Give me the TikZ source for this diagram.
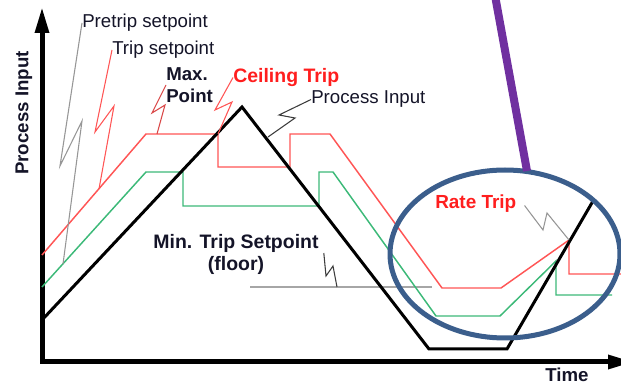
\documentclass[tikz,border=0pt]{standalone}
\usepackage{fontspec}
\setmainfont{Liberation Sans}
\usetikzlibrary{arrows.meta, positioning, shapes.geometric}
\definecolor{myred}{RGB}{255,85,85}
\definecolor{mytrip}{RGB}{255,30,30}
\definecolor{mygreen}{RGB}{60,185,120}
\definecolor{mydark}{RGB}{20,20,40}
\definecolor{mygray}{RGB}{150,150,150}
\definecolor{myleader}{RGB}{60,60,60}
\definecolor{myblue}{RGB}{59,94,140}
\definecolor{mypurple}{RGB}{112,48,160}
\tikzset{
  tag/.style={font=\fontsize{14}{16}\selectfont, text=mydark, inner sep=0pt},
  boldtag/.style={font=\fontsize{14}{16.5}\selectfont\bfseries, text=mydark, inner sep=0pt},
  bigtag/.style={font=\fontsize{14.6}{16.5}\selectfont\bfseries, text=mydark, inner sep=0pt},
  axis/.style={line width=3.75pt, line join=miter, color=black,
    {Triangle[length=19.5pt,width=10pt]}-{Triangle[length=19.5pt,width=10pt]}},
  process/.style={line width=2.25pt, color=black},
  tripline/.style={line width=1.1pt, color=myred},
  pretripline/.style={line width=1.1pt, color=mygreen},
  floorline/.style={line width=1.2pt, color=mygray!85},
  leader/.style={line width=0.8pt}
}

\begin{document}
\begin{tikzpicture}[x=0.75pt, y=-0.75pt]
  \clip (0,0) rectangle (621,384);

  % Axes
  \coordinate (ytop) at (42,7);
  \coordinate (origin) at (42,362);
  \coordinate (xend) at (634,362);
  \draw[axis] (ytop) -- (origin) -- (xend);
  \node[boldtag, rotate=90] (yname) at (24,113) {Process Input};
  \node[boldtag] (xname) at (567,375) {Time};

  % Key points on the curves
  \coordinate (pre-hit) at (63,264);
  \coordinate (trip-hit) at (99,189);
  \coordinate (max-hit) at (157,134);
  \coordinate (ceil-hit) at (218,134);
  \coordinate (pi-hit) at (268,137);
  \coordinate (floor-hit) at (337,287);
  \coordinate (rate-hit) at (569,240);

  % Min. trip setpoint (floor)
  \coordinate (floorL) at (250,287);
  \coordinate (floorR) at (432,287);
  \draw[floorline] (floorL) -- (floorR);

  % Pretrip setpoint
  \draw[pretripline] (42,287) -- (146,172) -- (183,172) -- (183,206) -- (319,206) -- (319,172)
    -- (333,172) -- (436,316) -- (500,316) -- (556,261) -- (556,295) -- (612,295);

  % Trip setpoint
  \draw[tripline] (42,255) -- (146,134) -- (ceil-hit) -- (218,167) -- (290,167) -- (290,134)
    -- (330,134) -- (442,288) -- (501,288) -- (rate-hit) -- (569,274) -- (621,274);

  % Process input
  \draw[process] (42,320) -- (242,107) -- (429,349) -- (507,349) -- (593,201);

  % Labels
  \node[tag, anchor=west] (pretrip) at (82,23) {Pretrip setpoint};
  \node[tag, anchor=west] (trip) at (112,50) {Trip setpoint};
  \node[boldtag, anchor=west, align=left] (maxpt) at (166,85) {Max.\\Point};
  \node[bigtag, anchor=west, text=mytrip] (ceiling) at (233,77.5) {Ceiling Trip};
  \node[tag, anchor=west] (procin) at (311,99.5) {Process Input};
  \node[bigtag, align=center] (mintrip) at (236,254) {Min. Trip Setpoint\\(floor)};
  \node[boldtag, anchor=west, text=mytrip, font=\fontsize{14.2}{16}\selectfont\bfseries] (rate) at (435,203.5) {Rate Trip};

  % Leaders
  \draw[leader, mygray] (pretrip.west) -- (60,166) -- (82,121) -- (pre-hit);
  \draw[leader, myred] (trip.west) -- (95,132) -- (114,106) -- (trip-hit);
  \draw[leader, myred!85!black] (maxpt.west) -- (152,113) -- (165,105) -- (max-hit);
  \draw[leader, myred] (ceiling.west) -- (215,110) -- (232,102) -- (ceil-hit);
  \draw[leader, myleader] (procin.west) -- (279,115) -- (295,118) -- (pi-hit);
  \draw[leader, myleader] (mintrip.east) ++(5,-1) -- (326,276) -- (333,266) -- (floor-hit);
  \draw[leader, mygray] (rate.east) ++(8,2) -- (543,230) -- (547,213) -- (rate-hit);

  % Rate trip highlight
  \draw[myblue, line width=3.75pt] (505,254) ellipse [x radius=115, y radius=84];
  \draw[mypurple, line width=6pt] (494,-10) -- (527,171);
\end{tikzpicture}
\end{document}
